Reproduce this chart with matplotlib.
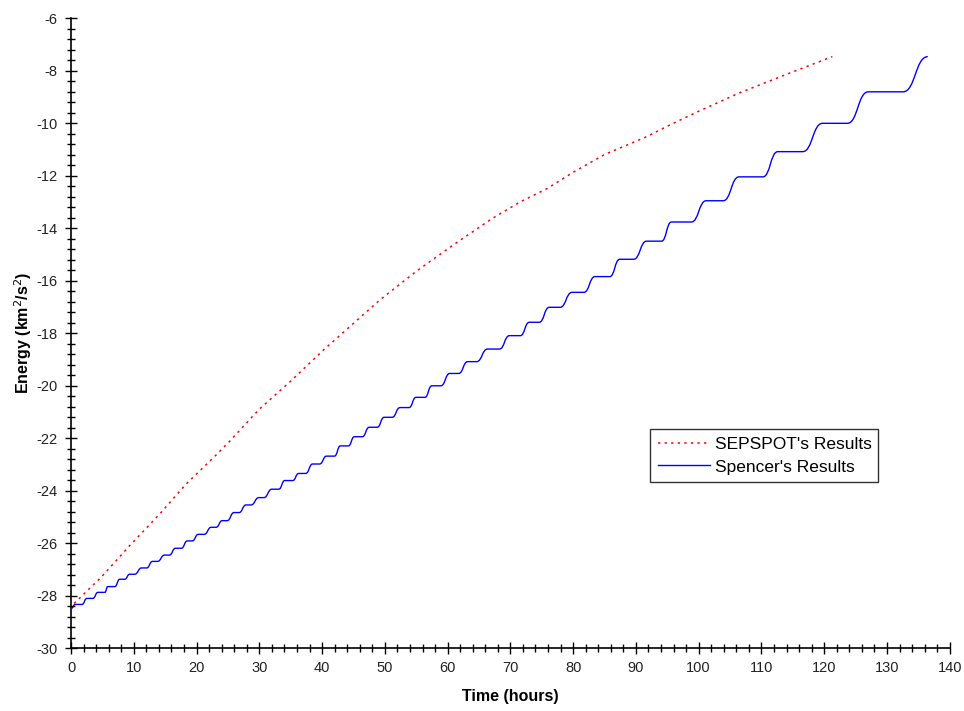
import matplotlib
matplotlib.use("Agg")
import matplotlib.pyplot as plt
from matplotlib.ticker import MultipleLocator
from matplotlib.path import Path
from matplotlib.patches import PathPatch
from matplotlib.lines import Line2D

plt.rcParams['font.family'] = ['Liberation Sans', 'DejaVu Sans']
plt.rcParams['axes.unicode_minus'] = False

# SEPSPOT's results (red dotted)
sep_t = [0.5, 4.9, 9.3, 14.1, 18.3, 23.1, 25.2, 30.0, 35.0, 40.2, 45.0, 49.2, 55.0,
         60.5, 63.2, 67.0, 71.6, 75.9, 80.1, 85.0, 91.7, 95.0, 100.0, 106.4, 110.0,
         115.0, 121.3]
sep_e = [-28.30, -27.28, -26.11, -24.90, -23.76, -22.65, -22.14, -20.90, -19.83, -18.65,
         -17.63, -16.74, -15.65, -14.71, -14.27, -13.65, -13.00, -12.49, -11.86, -11.20,
         -10.52, -10.12, -9.55, -8.86, -8.52, -8.05, -7.47]

# Spencer's results (blue solid): plateau start, plateau end and energy of each plateau
spen_start = [0.10, 0.63, 2.53, 4.28, 5.86, 7.76, 9.34, 11.24, 12.99, 14.89, 16.63, 18.53,
              20.27, 22.33, 24.07, 25.97, 27.87, 29.93, 31.99, 34.05, 36.27, 38.49, 40.70,
              42.92, 45.14, 47.51, 49.89, 52.42, 54.96, 57.49, 60.34, 63.19, 66.36, 69.85,
              73.01, 76.18, 79.82, 83.47, 87.42, 91.70, 95.66, 101.20, 106.43, 112.61,
              119.73, 127.02, 136.50]
spen_end = [0.10, 1.74, 3.48, 5.38, 6.97, 8.55, 10.14, 12.04, 13.78, 15.68, 17.58, 19.32,
            21.22, 23.12, 24.87, 26.77, 28.67, 30.73, 33.10, 35.32, 37.38, 39.60, 41.97,
            44.19, 46.41, 48.78, 51.16, 53.85, 56.38, 58.92, 61.77, 64.62, 68.26, 71.59,
            74.60, 77.92, 81.72, 85.84, 89.64, 94.08, 98.83, 103.90, 110.23, 116.57,
            123.69, 132.56, 136.50]
spen_e = [-28.48, -28.34, -28.11, -27.88, -27.66, -27.38, -27.19, -26.95, -26.70, -26.46,
          -26.20, -25.92, -25.67, -25.40, -25.15, -24.84, -24.55, -24.27, -23.95, -23.62,
          -23.35, -22.99, -22.69, -22.30, -21.95, -21.59, -21.21, -20.84, -20.45, -20.01,
          -19.54, -19.09, -18.61, -18.10, -17.59, -17.02, -16.45, -15.85, -15.19, -14.50,
          -13.77, -12.96, -12.05, -11.09, -10.01, -8.81, -7.47]

x_ticks = list(range(0, 141, 10))
y_ticks = list(range(-30, -5, 2))

BLUE = '#0000ff'
RED = '#ff0000'

# Build a smooth path: flat plateaus joined by S-shaped cubic curves
verts = [(spen_start[0], spen_e[0])]
codes = [Path.MOVETO]
prev_end, prev_e = spen_end[0], spen_e[0]
if spen_end[0] != spen_start[0]:
    verts.append((spen_end[0], spen_e[0]))
    codes.append(Path.LINETO)
for a, b, e in zip(spen_start[1:], spen_end[1:], spen_e[1:]):
    mid = prev_end + 0.5 * (a - prev_end)
    verts += [(mid, prev_e), (mid, e), (a, e)]
    codes += [Path.CURVE4] * 3
    if b != a:
        verts.append((b, e))
        codes.append(Path.LINETO)
    prev_end, prev_e = b, e

fig = plt.figure(figsize=(9.64, 7.11), dpi=100)
ax = fig.add_axes([0.0737, 0.0886, 0.9115, 0.886])

ax.plot(sep_t, sep_e, color=RED, linestyle=(0, (1.5, 2.8)), linewidth=1.1)
ax.add_patch(PathPatch(Path(verts, codes), fill=False, edgecolor=BLUE, linewidth=1.0))

ax.set_xlim(0, 140)
ax.set_ylim(-30, -6)
ax.set_xticks(x_ticks)
ax.set_yticks(y_ticks)
ax.xaxis.set_minor_locator(MultipleLocator(2))
ax.yaxis.set_minor_locator(MultipleLocator(0.4))
ax.tick_params(which='major', direction='inout', length=9, width=1, labelsize=10.5,
               colors='black', labelcolor='#222222', pad=5)
ax.tick_params(which='minor', direction='inout', length=6, width=1)
for s in ['top', 'right']:
    ax.spines[s].set_visible(False)
for s in ['left', 'bottom']:
    ax.spines[s].set_linewidth(1.2)

ax.set_xlabel('Time (hours)', fontsize=11.5, fontweight='bold', labelpad=10)
ax.set_ylabel('Energy (km$^2$/s$^2$)', fontsize=11.5, fontweight='bold', labelpad=2)

handles = [Line2D([], [], color=RED, linestyle=(0, (1.5, 2.8)), linewidth=1.1),
           Line2D([], [], color=BLUE, linewidth=1.0)]
labels = ["SEPSPOT's Results", "Spencer's Results"]
leg = ax.legend(handles, labels, loc='lower left',
                bbox_to_anchor=(0.659, 0.263, 0.259, 0.09), borderaxespad=0,
                mode='expand', fontsize=12.5, frameon=True, fancybox=False,
                edgecolor='black', borderpad=0.45, handlelength=3.0, handletextpad=0.3,
                labelspacing=0.4)
leg.get_frame().set_linewidth(1.0)

fig.savefig('out.png', dpi=100)
